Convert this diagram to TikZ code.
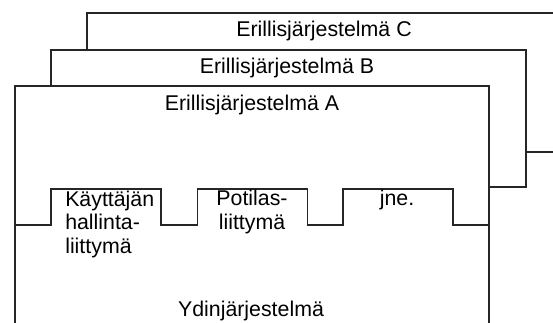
\documentclass[tikz,border=0pt]{standalone}
\usepackage{fontspec}
\setmainfont{Liberation Sans}
\usepackage{tikz}
\usetikzlibrary{calc}
\newcommand{\sysbox}[4]{ \filldraw[boxline,fill=white] ( #1 , #2 ) rectangle ( #3 , #4 );}
\newcommand{\tab}[2]{ -- ( #1 , 225 ) -- ( #1 , 189 ) -- ( #2 , 189 ) -- ( #2 , 225 ) }
\tikzset{
  boxline/.style={line width=1pt, draw=black!85},
  lbl/.style={inner sep=0pt, anchor=base, font=\fontsize{16}{17.8}\selectfont}
}

\begin{document}
\begin{tikzpicture}[x=0.75pt, y=-0.75pt]
        \useasboundingbox (0,0) rectangle (553,323);
        \clip (0,0) rectangle (553,323);

        % systems
        \sysbox{87}{13}{600}{152}
        \sysbox{51}{50}{526}{187}
        \sysbox{15}{86}{489}{340}

        \node[lbl] (sysC) at (324,37) {Erillisjärjestelmä C};
        \node[lbl] (sysB) at (287,74) {Erillisjärjestelmä B};
        \node[lbl] (sysA) at (252,111) {Erillisjärjestelmä A};

        % interfaces
        \draw[boxline] (15,225) \tab{51}{161} \tab{197.5}{307.5} \tab{343}{453} -- (489,225);

        \node[lbl,align=left,anchor=base west] (admin) at (65,253.5) {Käyttäjän\\hallinta-\\liittymä};
        \node[lbl,align=center] (patient) at (252,229.5) {Potilas-\\liittymä};
        \node[lbl] (etc) at (397,206) {jne.};

        \node[lbl] (core) at (251,317) {Ydinjärjestelmä};

    \end{tikzpicture}
\end{document}
